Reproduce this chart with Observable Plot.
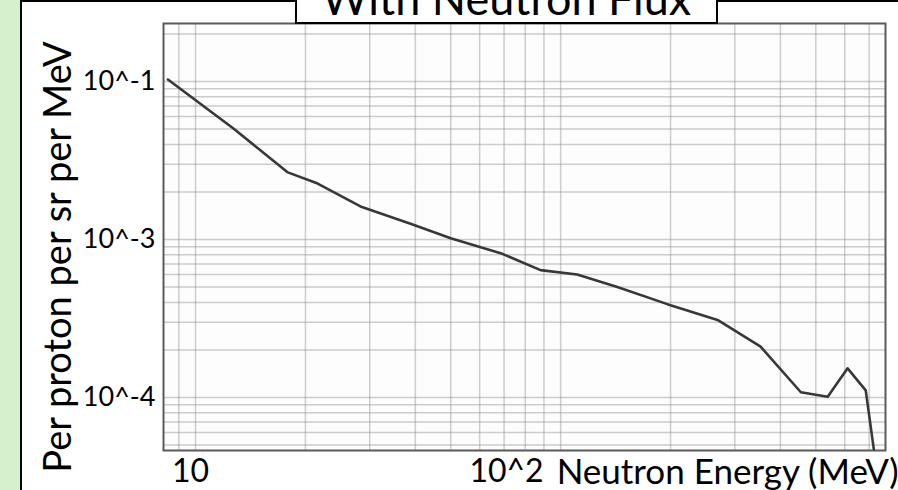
<!DOCTYPE html>
<html>
<head>
<meta charset="utf-8">
<script src="https://cdn.jsdelivr.net/npm/d3@7"></script>
<script src="https://cdn.jsdelivr.net/npm/@observablehq/plot@0.6"></script>
<style>
  html, body { margin: 0; padding: 0; background: #fff; }
  #wrap { position: relative; width: 898px; height: 490px; overflow: hidden; background: #fff; font-family: Lato, "Open Sans", sans-serif; }
  #green { position: absolute; left: 0; top: 0; width: 20px; height: 490px; background: #d5f0cb; }
  #panel { position: absolute; left: 20px; top: 0; width: 878px; height: 490px; box-sizing: border-box; border-left: 2px solid #000; border-top: 2px solid #000; background: #fff; }
  #chart { position: absolute; left: 0; top: 0; }
  #title { position: absolute; left: 295px; top: -40px; width: 423px; height: 64px; box-sizing: border-box; border: 2px solid #000; background: #fff; overflow: hidden; }
  #title span { position: absolute; left: 0; right: 0; top: 14px; text-align: center; font-size: 45px; line-height: 45px; color: #000; font-family: Lato, "Open Sans", sans-serif; }
</style>
</head>
<body>
<div id="wrap">
  <div id="green"></div>
  <div id="panel"></div>
  <div id="chart"></div>
  <div id="title"><span>With Neutron Flux</span></div>
</div>
<script>
// ---- data ----
const energy = [8.4, 12.7, 17.9, 21.6, 28.3, 38.8, 50.0, 68.5, 88.1, 111, 143, 196, 269, 353, 455, 539, 611, 685, 721];
const flux   = [0.103, 0.0504, 0.0266, 0.0226, 0.0162, 0.0126, 0.0102, 0.0082, 0.0064, 0.0060, 0.0050, 0.0039, 0.0031, 0.0021, 0.00108, 0.00101, 0.00153, 0.00111, 0.00047];
const xDomain = [8.17, 776];
const yDomain = [0.000462, 0.233];
const xTickValues = [10, 100];
const xTickLabels = ["10", "10^2"];
const yTickValues = [0.1, 0.01, 0.001];
const yTickLabels = ["10^-1", "10^-3", "10^-4"];
const titleText = "With Neutron Flux";
const xLabel = "Neutron Energy (MeV)";
const yLabel = "Per proton per sr per MeV";

const points = energy.map((e, i) => ({energy: e, flux: flux[i]}));
const xGrid = d3.scaleLog().domain(xDomain).ticks();
const yGrid = d3.scaleLog().domain(yDomain).ticks();
const xFmt = new Map(xTickValues.map((v, i) => [v, xTickLabels[i]]));
const yFmt = new Map(yTickValues.map((v, i) => [v, yTickLabels[i]]));

document.querySelector("#title span").textContent = titleText;

const font = "Lato, 'Open Sans', sans-serif";
const chart = Plot.plot({
  width: 898,
  height: 490,
  marginLeft: 163,
  marginRight: 13,
  marginTop: 23,
  marginBottom: 40,
  style: {background: "transparent", fontFamily: font, color: "#000", overflow: "visible"},
  x: {type: "log", domain: xDomain},
  y: {type: "log", domain: yDomain},
  marks: [
    Plot.frame({fill: "#fdfdfd", stroke: null}),
    Plot.gridX(xGrid, {stroke: "#8a8a8a", strokeOpacity: 0.42, strokeWidth: 1.5}),
    Plot.gridY(yGrid, {stroke: "#8a8a8a", strokeOpacity: 0.42, strokeWidth: 1.5}),
    Plot.frame({stroke: "#5a5a5a", strokeWidth: 2}),
    Plot.axisY(yTickValues, {tickFormat: d => yFmt.get(d), tickSize: 0, tickPadding: 8, fontSize: 27, label: null, fill: "#000"}),
    Plot.axisX([xTickValues[0]], {tickFormat: d => xFmt.get(d), tickSize: 0, tickPadding: 9, fontSize: 32, dx: -5, label: null, fill: "#000"}),
    Plot.axisX([xTickValues[1]], {tickFormat: d => xFmt.get(d), tickSize: 0, tickPadding: 9, fontSize: 32, textAnchor: "end", dx: -17, label: null, fill: "#000"}),
    Plot.text([xLabel], {x: xTickValues[1], frameAnchor: "bottom", text: d => d, textAnchor: "start", lineAnchor: "top", dy: 9, dx: -4, fontSize: 35, fill: "#000"}),
    Plot.text([yLabel], {frameAnchor: "left", text: d => d, rotate: -90, textAnchor: "middle", lineAnchor: "middle", dx: -105, dy: 20, fontSize: 38, fill: "#000"}),
    Plot.line(points, {x: "energy", y: "flux", stroke: "#383838", strokeWidth: 2.6})
  ]
});
document.getElementById("chart").appendChild(chart);
</script>
</body>
</html>
